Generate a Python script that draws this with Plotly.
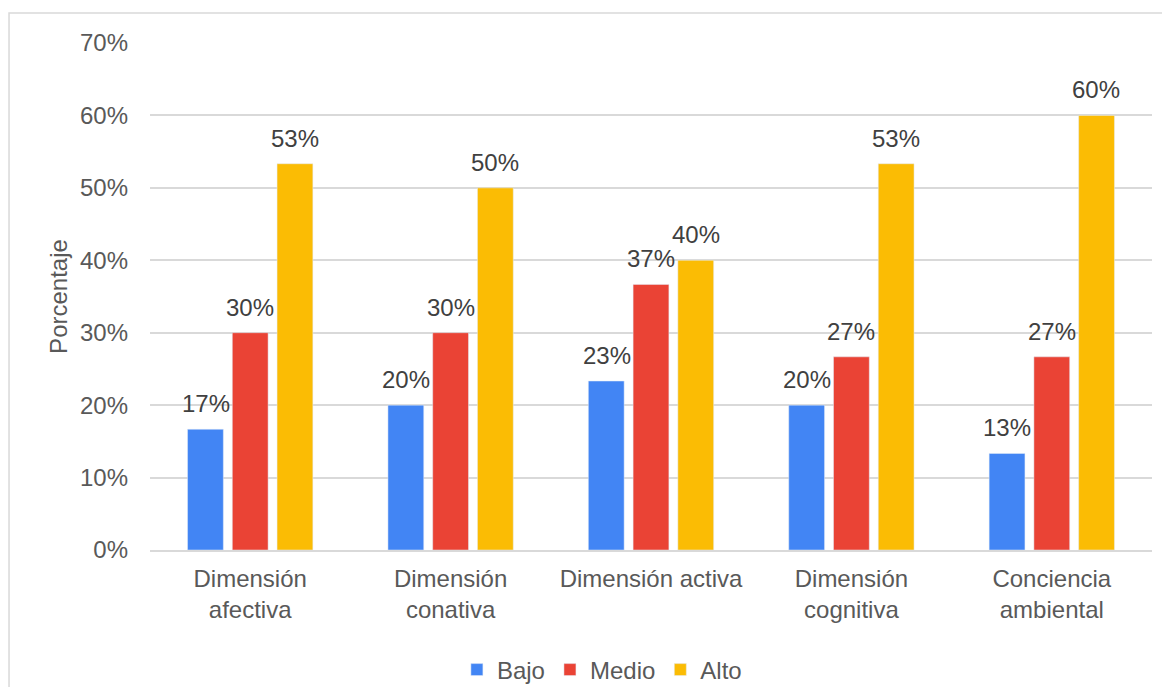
import plotly.graph_objects as go

categories = ["Dimensión<br>afectiva", "Dimensión<br>conativa", "Dimensión activa",
              "Dimensión<br>cognitiva", "Conciencia<br>ambiental"]
bajo = [16.67, 20.0, 23.33, 20.0, 13.33]
medio = [30.0, 30.0, 36.67, 26.67, 26.67]
alto = [53.33, 50.0, 40.0, 53.33, 60.0]
y_ticks = [0, 10, 20, 30, 40, 50, 60, 70]
y_tick_labels = [f"{v}%" for v in y_ticks]

series = [("Bajo", bajo, "#4285F4"), ("Medio", medio, "#EA4335"), ("Alto", alto, "#FBBC04")]

FONT = "Liberation Sans, Arial, sans-serif"
SLOT = 44.5  # px between bar centres inside a group

fig = go.Figure()
for i, (name, vals, color) in enumerate(series):
    fig.add_trace(go.Bar(x=categories, y=vals, name=name, marker_color=color))
    # value labels sit a little higher above the bars than plotly's own outside text
    for cat, v in zip(categories, vals):
        fig.add_annotation(x=cat, y=v, text=f"{v:.0f}%", showarrow=False,
                           xshift=(i - 1) * SLOT, yanchor="bottom", yshift=10,
                           font=dict(size=24, color="#404040"))

# page body has an 8px margin, so the figure is 8px smaller than the window
fig.update_layout(
    width=1162, height=679,
    margin=dict(l=142, r=18, t=35, b=137, autoexpand=False),
    paper_bgcolor="white", plot_bgcolor="white",
    font=dict(family=FONT, size=24, color="#595959"),
    barmode="group", bargap=0.33, bargroupgap=0.2,
    legend=dict(orientation="h", x=0.451, xanchor="center", y=-0.2367, yanchor="middle",
                font=dict(size=24, color="#595959"), itemwidth=30, traceorder="normal"),
    showlegend=True,
    shapes=[dict(type="rect", xref="paper", yref="paper", x0=-0.1407, x1=1.05, y0=-0.35, y1=1.0592,
                 line=dict(color="#D9D9D9", width=1.5), fillcolor="rgba(0,0,0,0)", layer="below")],
)
fig.update_yaxes(range=[0, 70], tickmode="array", tickvals=y_ticks, ticktext=y_tick_labels,
                 showgrid=True, gridcolor="#D9D9D9", gridwidth=1.5, zeroline=False, showline=False,
                 tickfont=dict(size=24, color="#595959"), ticks="", ticklabelstandoff=21,
                 automargin=False,
                 title=dict(text="Porcentaje", font=dict(size=24, color="#595959"), standoff=5))
fig.update_xaxes(showline=True, linecolor="#D9D9D9", linewidth=1.5, ticks="", automargin=False,
                 tickfont=dict(size=24, color="#595959"), ticklabelstandoff=6)

fig.write_html("out.html")
